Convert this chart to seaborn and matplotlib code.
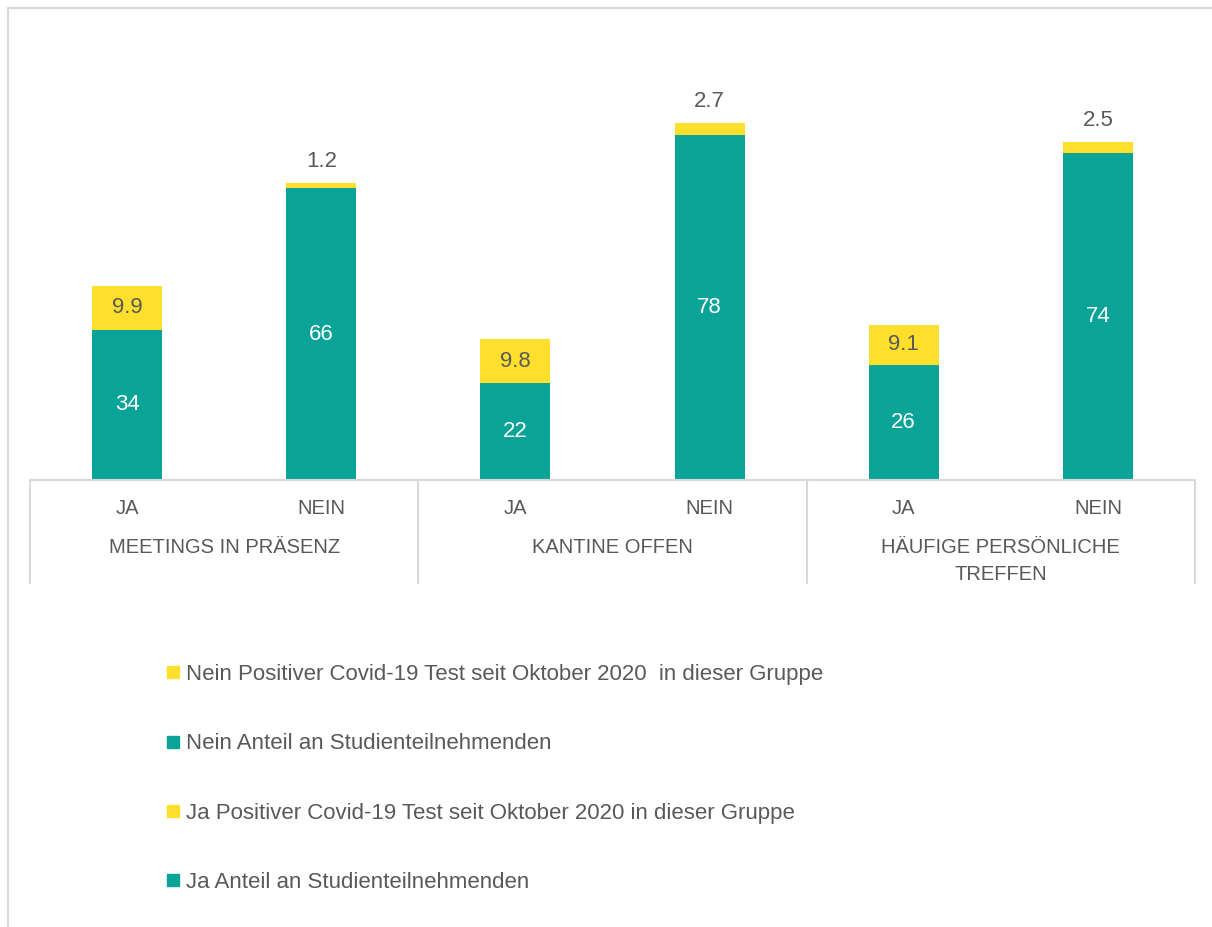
import pandas as pd
import numpy as np
import seaborn as sns
import matplotlib.pyplot as plt
from matplotlib.lines import Line2D
import matplotlib.transforms as mtransforms


# values
groups = ["MEETINGS IN PRÄSENZ", "KANTINE OFFEN", "HÄUFIGE PERSÖNLICHE\nTREFFEN"]
answers = ["JA", "NEIN", "JA", "NEIN", "JA", "NEIN"]
anteil = [34, 66, 22, 78, 26, 74]          # Anteil an Studienteilnehmenden
positiv = [9.9, 1.2, 9.8, 2.7, 9.1, 2.5]   # Positiver Covid-19 Test
legend_labels = [
    "Nein Positiver Covid-19 Test seit Oktober 2020  in dieser Gruppe",
    "Nein Anteil an Studienteilnehmenden",
    "Ja Positiver Covid-19 Test seit Oktober 2020 in dieser Gruppe",
    "Ja Anteil an Studienteilnehmenden",
]

teal = "#0aa398"
yellow = "#fedf2c"
grey = "#595959"
line_grey = "#d9d9d9"

sns.set_style("white")
plt.rcParams["font.family"] = ["Liberation Sans", "DejaVu Sans"]

# one row per bar, unique key so nothing is aggregated
df = pd.DataFrame({
    "bar": [f"{i}_{a}" for i, a in enumerate(answers)],
    "answer": answers,
    "anteil": anteil,
    "positiv": positiv,
})
df["total"] = df["anteil"] + df["positiv"]

fig = plt.figure(figsize=(12.12, 9.27), dpi=100)
W, H = 1212, 927
ax = fig.add_axes([30 / W, 1 - 480 / H, (1195 - 30) / W, (480 - 82) / H])

# stacked bars: totals in yellow underneath, teal share drawn on top
sns.barplot(data=df, x="bar", y="total", color=yellow, width=0.36,
            saturation=1, ax=ax, linewidth=0)
sns.barplot(data=df, x="bar", y="anteil", color=teal, width=0.36,
            saturation=1, ax=ax, linewidth=0)

ax.set_xlim(-0.5, 5.5)
ax.set_ylim(0, 90)
ax.set_xlabel("")
ax.set_ylabel("")
ax.set_yticks([])
ax.set_xticks(range(len(answers)))
ax.set_xticklabels([])
ax.tick_params(axis="x", length=0)
for s in ["top", "left", "right"]:
    ax.spines[s].set_visible(False)
ax.spines["bottom"].set_color(line_grey)
ax.spines["bottom"].set_linewidth(1.5)

# data labels
for i, row in df.iterrows():
    ax.text(i, row["anteil"] / 2, f"{row['anteil']:g}", ha="center", va="center",
            color="white", fontsize=16)
    if row["positiv"] >= 5:
        ax.text(i, row["anteil"] + row["positiv"] / 2, f"{row['positiv']:g}",
                ha="center", va="center", color=grey, fontsize=16)
    else:
        ax.annotate(f"{row['positiv']:g}", (i, row["total"]), xytext=(0, 8),
                    textcoords="offset points", ha="center", va="bottom",
                    color=grey, fontsize=16)

# multi-level category axis
trans = mtransforms.blended_transform_factory(ax.transData, ax.transAxes)
ax_h = 480 - 82
for xv in [-0.5, 1.5, 3.5, 5.5]:
    ax.plot([xv, xv], [0, -(583 - 480) / ax_h], transform=trans,
            color=line_grey, lw=1.5, clip_on=False)
for i, a in enumerate(answers):
    ax.text(i, -(508 - 480) / ax_h, a, transform=trans, ha="center",
            va="center", color=grey, fontsize=14.5)
for g, name in enumerate(groups):
    ax.text(2 * g + 0.5, -(538 - 480) / ax_h, name, transform=trans,
            ha="center", va="top", color=grey, fontsize=14.5, linespacing=1.55)

# legend
handles = [
    Line2D([], [], marker="s", ls="", color=yellow, markersize=9),
    Line2D([], [], marker="s", ls="", color=teal, markersize=9),
    Line2D([], [], marker="s", ls="", color=yellow, markersize=9),
    Line2D([], [], marker="s", ls="", color=teal, markersize=9),
]
leg = fig.legend(handles, legend_labels, loc="upper left",
                 bbox_to_anchor=(155 / W, 1 - 653 / H), frameon=False,
                 fontsize=16, labelspacing=2.17, handlelength=0.6,
                 handletextpad=0.3, borderpad=0)
for t in leg.get_texts():
    t.set_color(grey)

# frame of the chart area (only left and top show)
fig.add_artist(Line2D([7.5 / W, 7.5 / W], [0, 1 - 7.5 / H], color=line_grey, lw=1.5))
fig.add_artist(Line2D([7.5 / W, 1], [1 - 7.5 / H, 1 - 7.5 / H], color=line_grey, lw=1.5))

fig.savefig("out.png", dpi=100)
